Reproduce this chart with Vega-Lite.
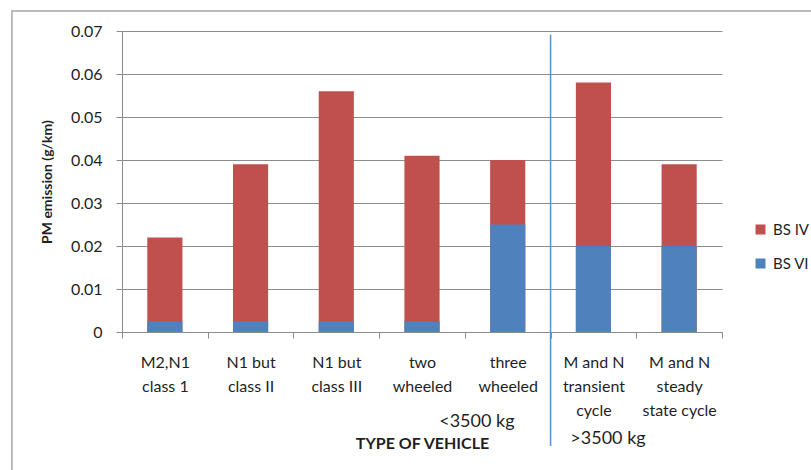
{
  "$schema": "https://vega.github.io/schema/vega-lite/v6.json",
  "width": 600,
  "height": 301,
  "autosize": {"type": "none"},
  "padding": {"left": 122, "top": 31, "right": 89, "bottom": 138},
  "background": "white",
  "config": {"view": {"stroke": null}, "font": "Lato"},
  "datasets": {
    "pm": [
      {"vehicle": "M2,N1|class 1", "standard": "BS IV", "pm": 0.022},
      {"vehicle": "N1 but|class II", "standard": "BS IV", "pm": 0.039},
      {"vehicle": "N1 but|class III", "standard": "BS IV", "pm": 0.056},
      {"vehicle": "two|wheeled", "standard": "BS IV", "pm": 0.041},
      {"vehicle": "three|wheeled", "standard": "BS IV", "pm": 0.04},
      {"vehicle": "M and N|transient|cycle", "standard": "BS IV", "pm": 0.058},
      {"vehicle": "M and N|steady|state cycle", "standard": "BS IV", "pm": 0.039},
      {"vehicle": "M2,N1|class 1", "standard": "BS VI", "pm": 0.0025},
      {"vehicle": "N1 but|class II", "standard": "BS VI", "pm": 0.0025},
      {"vehicle": "N1 but|class III", "standard": "BS VI", "pm": 0.0025},
      {"vehicle": "two|wheeled", "standard": "BS VI", "pm": 0.0025},
      {"vehicle": "three|wheeled", "standard": "BS VI", "pm": 0.025},
      {"vehicle": "M and N|transient|cycle", "standard": "BS VI", "pm": 0.02},
      {"vehicle": "M and N|steady|state cycle", "standard": "BS VI", "pm": 0.02}
    ]
  },
  "layer": [
    {
      "data": {"name": "pm"},
      "mark": {"type": "bar", "width": {"band": 0.41}},
      "encoding": {
        "x": {
          "field": "vehicle", "type": "nominal", "sort": null,
          "scale": {"paddingInner": 0, "paddingOuter": 0},
          "axis": {
            "title": "TYPE OF VEHICLE",
            "labelExpr": "split(datum.label, '|')",
            "labelAngle": 0,
            "tickBand": "extent",
            "grid": false,
            "domainColor": "#8c8c8c",
            "tickColor": "#8c8c8c",
            "tickSize": 6,
            "labelFontSize": 16,
            "labelLineHeight": 24,
            "labelPadding": 16,
            "labelColor": "#1f1f1f",
            "labelBaseline": "top",
            "titleFontSize": 16,
            "titleFontWeight": "bold",
            "titleColor": "#1f1f1f",
            "titleY": 111,
            "titleBaseline": "middle"
          }
        },
        "y": {
          "field": "pm", "type": "quantitative", "stack": null,
          "scale": {"domain": [0, 0.07]},
          "axis": {
            "title": "PM emission (g/km)",
            "values": [0, 0.01, 0.02, 0.03, 0.04, 0.05, 0.06, 0.07],
            "format": "~g",
            "grid": true,
            "gridColor": "#8c8c8c",
            "domainColor": "#8c8c8c",
            "tickColor": "#8c8c8c",
            "tickSize": 6,
            "labelPadding": 14,
            "labelFontSize": 16,
            "labelColor": "#1f1f1f",
            "titleFontSize": 14,
            "titleFontWeight": "bold",
            "titleColor": "#1f1f1f",
            "titleX": -75,
            "titleBaseline": "middle"
          }
        },
        "color": {
          "field": "standard", "type": "nominal",
          "scale": {"domain": ["BS IV", "BS VI"], "range": ["#C0504D", "#4F81BD"]},
          "legend": {
            "title": null,
            "orient": "none",
            "legendX": 631,
            "legendY": 191,
            "padding": 0,
            "symbolType": "square",
            "symbolSize": 100,
            "symbolStrokeWidth": 0,
            "labelFontSize": 15,
            "labelColor": "#1f1f1f",
            "labelOffset": 5,
            "rowPadding": 18
          }
        }
      }
    },
    {
      "data": {"values": [{}]},
      "layer": [
        {
          "mark": {"type": "rect", "fillOpacity": 0, "stroke": "#a6a6a6", "strokeWidth": 1.5, "clip": false},
          "encoding": {
            "x": {"datum": -1.284, "type": "quantitative", "scale": {"domain": [0, 7]}, "axis": null},
            "x2": {"datum": 8.1},
            "y": {"datum": 0.07465, "type": "quantitative", "scale": {"domain": [0, 0.07]}, "axis": null},
            "y2": {"datum": -0.034}
          }
        },
        {
          "mark": {"type": "rule", "color": "#5b8fcf", "strokeWidth": 1.5, "clip": false},
          "encoding": {
            "x": {"datum": 5, "type": "quantitative", "scale": {"domain": [0, 7]}, "axis": null},
            "y": {"datum": 0.0691, "type": "quantitative", "scale": {"domain": [0, 0.07]}, "axis": null},
            "y2": {"datum": -0.0265}
          }
        },
        {
          "mark": {"type": "text", "text": "<3500 kg", "fontSize": 18, "color": "#1f1f1f", "align": "center", "baseline": "middle", "clip": false},
          "encoding": {
            "x": {"datum": 4.14, "type": "quantitative", "scale": {"domain": [0, 7]}, "axis": null},
            "y": {"datum": -0.0209, "type": "quantitative", "scale": {"domain": [0, 0.07]}, "axis": null}
          }
        },
        {
          "mark": {"type": "text", "text": ">3500 kg", "fontSize": 18, "color": "#1f1f1f", "align": "center", "baseline": "middle", "clip": false},
          "encoding": {
            "x": {"datum": 5.67, "type": "quantitative", "scale": {"domain": [0, 7]}, "axis": null},
            "y": {"datum": -0.0249, "type": "quantitative", "scale": {"domain": [0, 0.07]}, "axis": null}
          }
        }
      ]
    }
  ],
  "resolve": {"scale": {"x": "independent", "y": "independent"}}
}
